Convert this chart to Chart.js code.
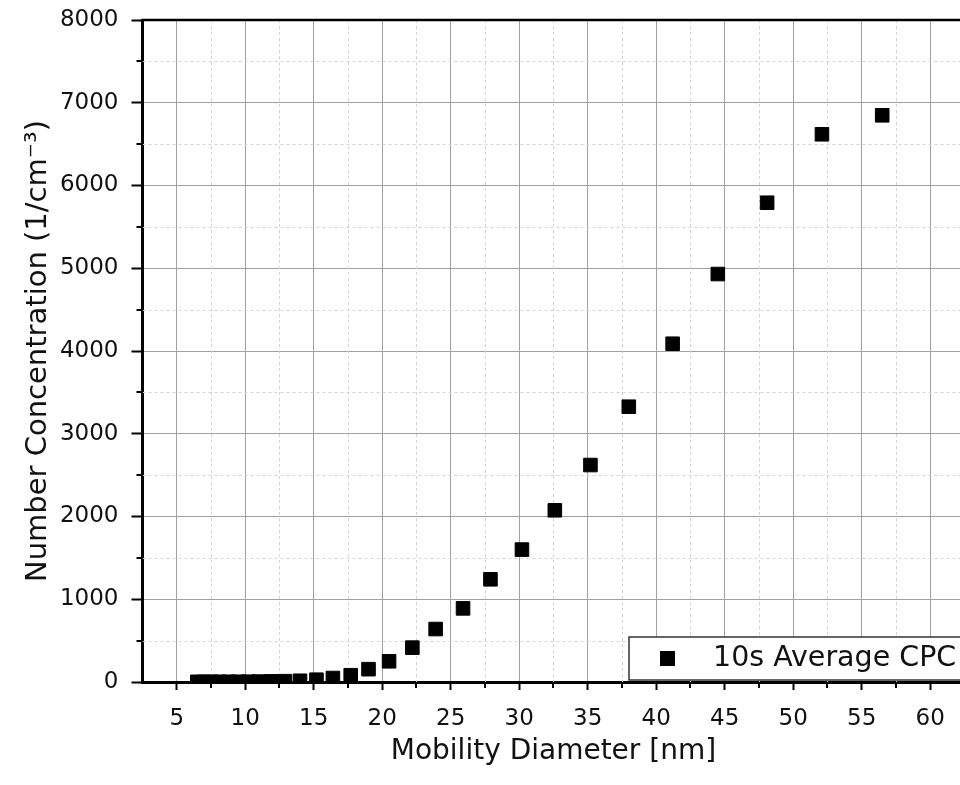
<!DOCTYPE html>
<html>
<head>
<meta charset="utf-8">
<script src="https://cdn.jsdelivr.net/npm/chart.js@4/dist/chart.umd.min.js"></script>
<style>
  html, body { margin: 0; padding: 0; background: #fff; overflow: hidden; width: 960px; height: 785px; }
  #c { position: absolute; left: 0; top: 0; }
</style>
</head>
<body>
<canvas id="c" width="975" height="785" style="width:975px;height:785px"></canvas>
<script>
// Mobility diameter [nm]
const diameters = [6.5, 7.0, 7.5, 8.1, 8.8, 9.5, 10.2, 11.0, 11.9, 12.9, 14.0, 15.2, 16.4, 17.7, 19.0, 20.5, 22.2, 23.9, 25.9, 27.9, 30.2, 32.6, 35.2, 38.0, 41.2, 44.5, 48.1, 52.1, 56.5];
// Number concentration (1/cm^-3), 10s average CPC
const concentrations = [2, 2, 2, 3, 3, 3, 4, 5, 8, 10, 15, 28, 48, 82, 155, 250, 415, 640, 890, 1241, 1600, 2075, 2622, 3327, 4088, 4930, 5792, 6619, 6848];
const seriesLabel = '10s Average CPC';
const xTitle = 'Mobility Diameter [nm]';
const yTitle = 'Number Concentration (1/cm\u207B\u00B3)';

const FONT = "'DejaVu Sans', 'Liberation Sans', sans-serif";
Chart.defaults.font.family = FONT;
Chart.defaults.color = '#111';

const points = diameters.map((d, i) => ({ x: d, y: concentrations[i] }));

const isMajorX = v => Math.abs(v / 5 - Math.round(v / 5)) < 1e-6;
const isMajorY = v => Math.abs(v / 1000 - Math.round(v / 1000)) < 1e-6;

const decor = {
  id: 'decor',
  beforeDatasetsDraw(chart) {
    const { ctx, chartArea: a, scales: { x, y } } = chart;
    ctx.save();
    ctx.beginPath();
    ctx.rect(a.left, a.top, a.right - a.left, a.bottom - a.top);
    ctx.clip();
    ctx.setLineDash([3, 3]);
    ctx.strokeStyle = '#d4d4d4';
    ctx.lineWidth = 1;
    x.ticks.filter(t => !isMajorX(t.value) && t.value > x.min && t.value < x.max).forEach(t => {
      const px = Math.round(x.getPixelForValue(t.value)) + 0.5;
      ctx.beginPath(); ctx.moveTo(px, a.top); ctx.lineTo(px, a.bottom); ctx.stroke();
    });
    y.ticks.filter(t => !isMajorY(t.value)).forEach(t => {
      const py = Math.round(y.getPixelForValue(t.value)) + 0.5;
      ctx.beginPath(); ctx.moveTo(a.left, py); ctx.lineTo(a.right, py); ctx.stroke();
    });
    ctx.restore();
  },
  afterDraw(chart) {
    const { ctx, chartArea: a, scales: { x, y } } = chart;
    ctx.save();
    ctx.setLineDash([]);
    ctx.strokeStyle = '#000';
    // frame top and right
    ctx.lineWidth = 2.5;
    ctx.beginPath();
    ctx.moveTo(a.left - 1, a.top); ctx.lineTo(a.right, a.top); ctx.lineTo(a.right, a.bottom);
    ctx.stroke();
    // minor ticks
    ctx.lineWidth = 2;
    x.ticks.filter(t => !isMajorX(t.value) && t.value > x.min).forEach(t => {
      const px = Math.round(x.getPixelForValue(t.value));
      ctx.beginPath(); ctx.moveTo(px, a.bottom); ctx.lineTo(px, a.bottom + 6); ctx.stroke();
    });
    y.ticks.filter(t => !isMajorY(t.value)).forEach(t => {
      const py = Math.round(y.getPixelForValue(t.value));
      ctx.beginPath(); ctx.moveTo(a.left - 6, py); ctx.lineTo(a.left, py); ctx.stroke();
    });
    // legend box
    const bx = 629, by = 637, bw = 345, bh = 43;
    ctx.fillStyle = '#fff';
    ctx.fillRect(bx, by, bw, bh);
    ctx.lineWidth = 1.5;
    ctx.strokeStyle = '#333';
    ctx.strokeRect(bx, by, bw, bh);
    ctx.fillStyle = '#000';
    ctx.fillRect(660, 651, 15, 15);
    ctx.font = '28.5px ' + FONT;
    ctx.textBaseline = 'middle';
    ctx.textAlign = 'left';
    ctx.fillStyle = '#111';
    ctx.fillText(seriesLabel, 713, 659);
    ctx.restore();
  }
};

new Chart(document.getElementById('c'), {
  type: 'scatter',
  data: {
    datasets: [{
      label: seriesLabel,
      data: points,
      pointStyle: 'rect',
      pointRadius: 9.6,
      pointHoverRadius: 9.6,
      pointBackgroundColor: '#000',
      pointBorderColor: '#000',
      pointBorderWidth: 1,
      clip: 0
    }]
  },
  options: {
    responsive: false,
    maintainAspectRatio: false,
    devicePixelRatio: 1,
    animation: false,
    events: [],
    layout: { padding: { left: 0, top: 20, right: 9, bottom: 0 } },
    plugins: { legend: { display: false }, tooltip: { enabled: false } },
    scales: {
      x: {
        type: 'linear',
        min: 2.5,
        max: 62.5,
        afterFit(s) { s.height = 103; s.paddingLeft = 0; s.paddingRight = 0; },
        ticks: {
          stepSize: 2.5,
          autoSkip: false,
          maxRotation: 0,
          padding: 15,
          font: { size: 23 },
          color: '#111',
          callback: v => isMajorX(v) ? String(Math.round(v)) : ''
        },
        grid: {
          color: c => (c.tick && isMajorX(c.tick.value)) ? '#a0a0a0' : 'rgba(0,0,0,0)',
          lineWidth: 1,
          tickLength: 8,
          tickWidth: 2,
          tickColor: c => (c.tick && isMajorX(c.tick.value)) ? '#000' : 'rgba(0,0,0,0)'
        },
        border: { display: true, color: '#000', width: 3 },
        title: {
          display: true,
          text: xTitle,
          font: { size: 28 },
          color: '#111',
          padding: { top: 0, bottom: 16 }
        }
      },
      y: {
        type: 'linear',
        min: 0,
        max: 8000,
        afterFit(s) { s.width = 142.5; s.paddingTop = 0; s.paddingBottom = 0; },
        ticks: {
          stepSize: 500,
          autoSkip: false,
          padding: 13,
          font: { size: 23 },
          color: '#111',
          callback: v => isMajorY(v) ? String(Math.round(v)) : ''
        },
        grid: {
          color: c => (c.tick && isMajorY(c.tick.value)) ? '#a0a0a0' : 'rgba(0,0,0,0)',
          lineWidth: 1,
          tickLength: 11,
          tickWidth: 2,
          tickColor: c => (c.tick && isMajorY(c.tick.value)) ? '#000' : 'rgba(0,0,0,0)'
        },
        border: { display: true, color: '#000', width: 3 },
        title: {
          display: true,
          text: yTitle,
          font: { size: 29 },
          color: '#111',
          padding: { top: 21, bottom: 0 }
        }
      }
    }
  },
  plugins: [decor]
});
</script>
</body>
</html>
